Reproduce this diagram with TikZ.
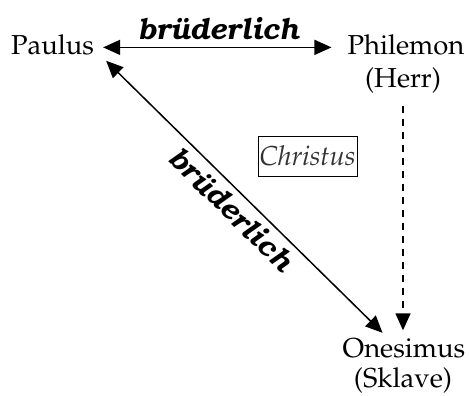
\documentclass[tikz,border=0pt]{standalone}
\IfFileExists{t1ppl.fd}{%
  \usepackage[T1]{fontenc}%
  \newcommand\rmfnt{\fontencoding{T1}\fontfamily{ppl}\fontseries{m}\fontshape{n}\fontsize{27.4}{33}\selectfont}%
  \IfFileExists{t1pbk.fd}{%
    \newcommand\bdfnt{\fontencoding{T1}\fontfamily{pbk}\fontseries{db}\fontshape{it}\fontsize{29}{35}\selectfont}%
  }{%
    \newcommand\bdfnt{\fontencoding{T1}\fontfamily{ppl}\fontseries{b}\fontshape{it}\fontsize{35}{42}\selectfont}%
  }%
}{%
  \usepackage{fontspec}%
  \setmainfont{Liberation Serif}%
  \newcommand\rmfnt{\fontsize{30.5}{36}\selectfont}%
  \newcommand\bdfnt{\bfseries\itshape\fontsize{35}{42}\selectfont}%
}
\usetikzlibrary{arrows.meta}
\begin{document}
\begin{tikzpicture}[x=1pt,y=-1pt,
  >={Triangle[length=17pt,width=15pt]},
  lbl/.style={inner sep=0pt, anchor=base, font=\rmfnt},
  bfit/.style={font=\bdfnt},
  conn/.style={line width=1.5pt},
  dashconn/.style={line width=1.5pt, dash pattern=on 7pt off 6pt},
  box/.style={draw, line width=0.6pt, inner sep=0pt, minimum width=99pt, minimum height=40pt,
    font=\rmfnt\itshape, text=black!80}
]
\useasboundingbox (0,0) rectangle (469,396);
\node[lbl] (paulus) at (52.5,55) {Paulus};
\node[lbl] (phil) at (406,55) {Philemon};
\node[lbl] (herr) at (403,88) {(Herr)};
\node[lbl] (ones) at (404,357) {Onesimus};
\node[lbl] (skl) at (403,387) {(Sklave)};
\node[box] (christ) at (307.5,156) {Christus};
\draw[conn, <->, shorten <=9pt, shorten >=16pt] ([yshift=-2pt]paulus.east) -- ([yshift=-2pt]paulus.east -| phil.west)
  node[midway, above, yshift=4pt, xshift=-2pt, bfit] {br\"uderlich};
\draw[conn, <->] ([xshift=12pt,yshift=-5pt]paulus.south east) -- ([xshift=40pt,yshift=5pt]ones.north west)
  node[pos=0.5, below, sloped, inner sep=6pt, bfit] {br\"uderlich};
\draw[dashconn, ->, shorten <=12pt, shorten >=7.5pt] (herr.south) -- (herr.south |- ones.north);
\end{tikzpicture}
\end{document}
